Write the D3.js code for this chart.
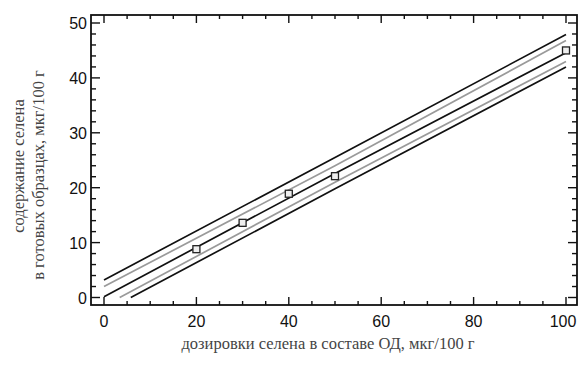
<!DOCTYPE html>
<html><head><meta charset="utf-8">
<script src="https://cdn.jsdelivr.net/npm/d3@7"></script>
<style>body{margin:0;background:#fff}</style>
</head><body>
<svg id="c" width="578" height="371"></svg>
<script>
// Observed points
const doseX = [20, 30, 40, 50, 100];
const seleniumY = [8.8, 13.6, 18.9, 22.1, 45.0];
// Fitted line and bands: [x, y]
const fitLine = [[0, 0.15], [50, 22.6], [100, 44.6]];
const upperConf = [[0, 2.0], [50, 24.0], [100, 46.8]];
const lowerConf = [[3.4, 0], [50, 21.0], [100, 43.0]];
const upperPred = [[0, 3.2], [50, 25.5], [100, 47.9]];
const lowerPred = [[5.8, 0], [50, 19.8], [100, 42.0]];
const xTicks = [0, 20, 40, 60, 80, 100];
const yTicks = [0, 10, 20, 30, 40, 50];

const svg = d3.select("#c");
const L = 91, R = 577, T = 15, B = 305;
const x = d3.scaleLinear().domain([0, 100]).range([104, 566]);
const y = d3.scaleLinear().domain([0, 50]).range([297.5, 23]);

// frame
svg.append("rect").attr("x", L).attr("y", T).attr("width", R - L).attr("height", B - T)
  .attr("fill", "none").attr("stroke", "#111").attr("stroke-width", 1.8);

// ticks inward
const xMinor = d3.range(0, 101, 5);
const yMinor = d3.range(0, 51, 2);
const tk = svg.append("g").attr("stroke", "#111").attr("stroke-width", 1.4);
xMinor.forEach(v => {
  const len = v % 20 === 0 ? 8 : 4;
  tk.append("line").attr("x1", x(v)).attr("x2", x(v)).attr("y1", B).attr("y2", B - len);
  tk.append("line").attr("x1", x(v)).attr("x2", x(v)).attr("y1", T).attr("y2", T + len);
});
yMinor.forEach(v => {
  const len = v % 10 === 0 ? 9 : 5;
  tk.append("line").attr("y1", y(v)).attr("y2", y(v)).attr("x1", L).attr("x2", L + len);
  tk.append("line").attr("y1", y(v)).attr("y2", y(v)).attr("x1", R).attr("x2", R - len);
});

// tick labels
const lab = svg.append("g").style("font-family", "'Liberation Sans', Arial, sans-serif")
  .style("font-size", "16px").attr("fill", "#111");
xTicks.forEach(v => lab.append("text").attr("x", Math.min(x(v), 563)).attr("y", B + 22)
  .attr("text-anchor", "middle").text(v));
yTicks.forEach(v => lab.append("text").attr("x", L - 4).attr("y", y(v) + 6)
  .attr("text-anchor", "end").text(v));

// lines
const line = d3.line().x(d => x(d[0])).y(d => y(d[1]));
[[upperPred, "#111"], [lowerPred, "#111"], [upperConf, "#9a9a9a"], [lowerConf, "#9a9a9a"], [fitLine, "#111"]]
  .forEach(([d, c]) => svg.append("path").attr("d", line(d)).attr("fill", "none")
    .attr("stroke", c).attr("stroke-width", 1.7));

// points
doseX.forEach((v, i) => svg.append("rect").attr("x", x(v) - 3.5).attr("y", y(seleniumY[i]) - 3.5)
  .attr("width", 7).attr("height", 7).attr("fill", "#eee").attr("stroke", "#222").attr("stroke-width", 1.3));

// axis titles
const tt = svg.append("g").style("font-family", "'Liberation Serif', 'Times New Roman', serif")
  .style("font-size", "16.5px").attr("fill", "#444");
tt.append("text").attr("x", 328).attr("y", 349).attr("text-anchor", "middle")
  .text("дозировки селена в составе ОД, мкг/100 г");
tt.append("text").attr("transform", "translate(24,166) rotate(-90)").attr("text-anchor", "middle")
  .text("содержание селена");
tt.append("text").attr("transform", "translate(44,175) rotate(-90)").attr("text-anchor", "middle")
  .text("в готовых образцах, мкг/100 г");
</script>
</body></html>
